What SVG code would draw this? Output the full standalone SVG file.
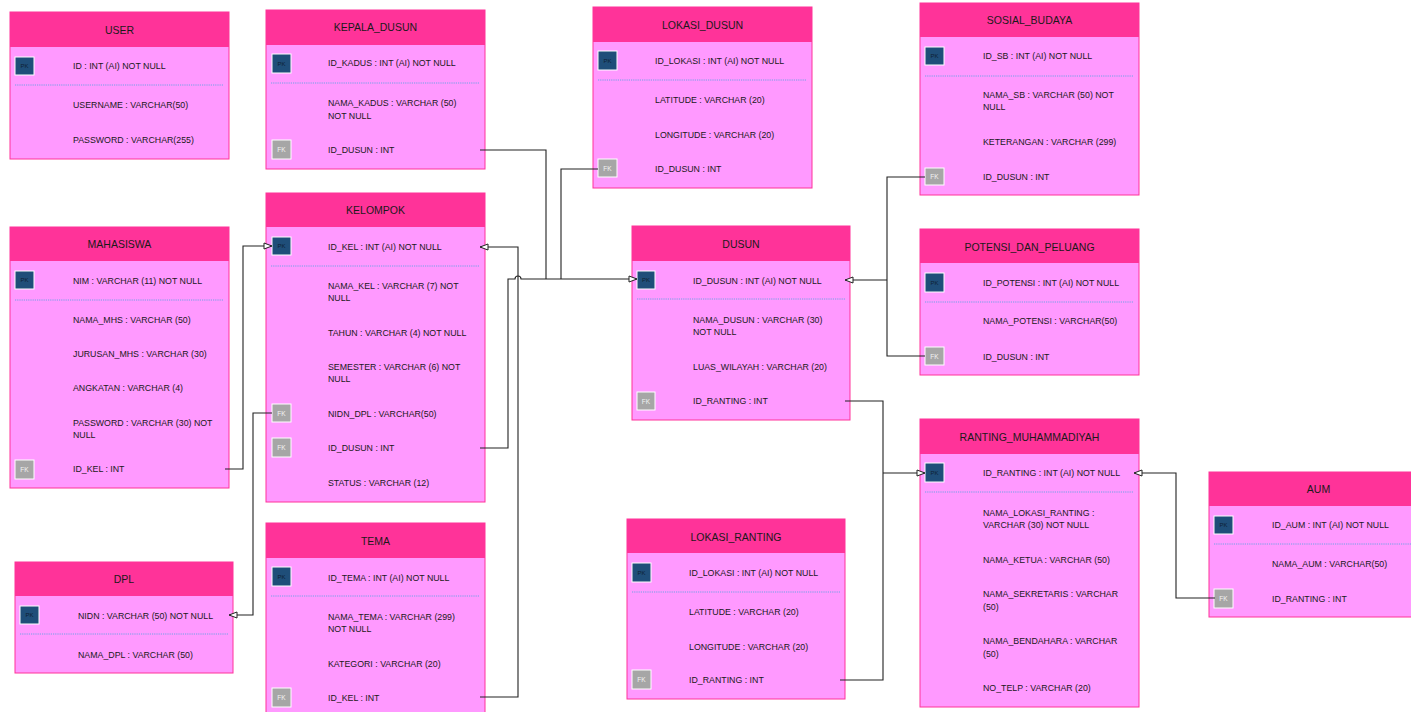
<svg xmlns="http://www.w3.org/2000/svg" width="1411" height="712" viewBox="0 0 1411 712">
<style>
.bd{fill:#FF99FF;stroke:#FF3399;stroke-width:1}
.hd{fill:#FF3399}
.t{font-family:"Liberation Sans",Arial,sans-serif;font-size:10.5px;fill:#1a1a1a;text-anchor:middle}
.r{font-family:"Liberation Sans",Arial,sans-serif;font-size:8.8px;fill:#1a1a1a}
.sep{stroke:#4FA3E0;stroke-width:0.8;stroke-dasharray:1.2 1}
.pk{fill:#1F4E79;stroke:#ffffff;stroke-width:1}
.fk{fill:#A6A6A6;stroke:#ffffff;stroke-width:1}
.pkt{font-family:"Liberation Sans",Arial,sans-serif;font-size:6px;fill:#0E1F33;text-anchor:middle}
.fkt{font-family:"Liberation Sans",Arial,sans-serif;font-size:6.5px;fill:#F2F2F2;text-anchor:middle}
.c{fill:none;stroke:#222;stroke-width:1.1}
</style>
<defs>
<marker id="arr" markerWidth="11" markerHeight="9" refX="9.5" refY="4.5" orient="auto" markerUnits="userSpaceOnUse">
<path d="M1.5,1.5 L9.5,4.5 L1.5,7.5 Z" fill="#fff" stroke="#222" stroke-width="1"/>
</marker>
</defs>
<rect width="1411" height="712" fill="#fff"/>

<g id="user">
<rect class="bd" x="10" y="12" width="219" height="147"/>
<rect class="hd" x="10" y="12" width="219" height="35"/>
<text class="t" x="119.5" y="34">USER</text>
<rect class="pk" x="15" y="57" width="19" height="18"/><text class="pkt" x="24.5" y="68">PK</text>
<text class="r" x="73" y="69">ID : INT (AI) NOT NULL</text>
<line class="sep" x1="15" y1="85" x2="224" y2="85"/>
<text class="r" x="73" y="108">USERNAME : VARCHAR(50)</text>
<text class="r" x="73" y="143">PASSWORD : VARCHAR(255)</text>
</g>

<g id="kepala_dusun">
<rect class="bd" x="266" y="10" width="219" height="159"/>
<rect class="hd" x="266" y="10" width="219" height="35"/>
<text class="t" x="375.5" y="31">KEPALA_DUSUN</text>
<rect class="pk" x="272" y="54" width="19" height="19"/><text class="pkt" x="281.5" y="65.5">PK</text>
<text class="r" x="328" y="66">ID_KADUS : INT (AI) NOT NULL</text>
<line class="sep" x1="271" y1="83" x2="480" y2="83"/>
<text class="r" x="328" y="106">NAMA_KADUS : VARCHAR (50)<tspan x="328" y="119">NOT NULL</tspan></text>
<rect class="fk" x="272" y="140" width="19" height="19"/><text class="fkt" x="281.5" y="152">FK</text>
<text class="r" x="328" y="153">ID_DUSUN : INT</text>
</g>

<g id="lokasi_dusun">
<rect class="bd" x="593" y="7" width="219" height="181"/>
<rect class="hd" x="593" y="7" width="219" height="35"/>
<text class="t" x="702.5" y="29">LOKASI_DUSUN</text>
<rect class="pk" x="598" y="51" width="19" height="19"/><text class="pkt" x="607.5" y="62.5">PK</text>
<text class="r" x="655" y="64">ID_LOKASI : INT (AI) NOT NULL</text>
<line class="sep" x1="598" y1="80" x2="807" y2="80"/>
<text class="r" x="655" y="103">LATITUDE : VARCHAR (20)</text>
<text class="r" x="655" y="138">LONGITUDE : VARCHAR (20)</text>
<rect class="fk" x="598" y="159" width="19" height="18"/><text class="fkt" x="607.5" y="170.5">FK</text>
<text class="r" x="655" y="172">ID_DUSUN : INT</text>
</g>

<g id="sosial_budaya">
<rect class="bd" x="920" y="3" width="219" height="192"/>
<rect class="hd" x="920" y="3" width="219" height="34"/>
<text class="t" x="1029.5" y="24">SOSIAL_BUDAYA</text>
<rect class="pk" x="925" y="47" width="19" height="18"/><text class="pkt" x="934.5" y="58">PK</text>
<text class="r" x="983" y="59">ID_SB : INT (AI) NOT NULL</text>
<line class="sep" x1="925" y1="76" x2="1134" y2="76"/>
<text class="r" x="983" y="98">NAMA_SB : VARCHAR (50) NOT<tspan x="983" y="110">NULL</tspan></text>
<text class="r" x="983" y="145">KETERANGAN : VARCHAR (299)</text>
<rect class="fk" x="925" y="168" width="19" height="17"/><text class="fkt" x="934.5" y="179">FK</text>
<text class="r" x="983" y="180">ID_DUSUN : INT</text>
</g>

<g id="mahasiswa">
<rect class="bd" x="10" y="227" width="219" height="261"/>
<rect class="hd" x="10" y="227" width="219" height="34"/>
<text class="t" x="119.5" y="248">MAHASISWA</text>
<rect class="pk" x="15" y="271" width="19" height="18"/><text class="pkt" x="24.5" y="282">PK</text>
<text class="r" x="73" y="284">NIM : VARCHAR (11) NOT NULL</text>
<line class="sep" x1="15" y1="300" x2="224" y2="300"/>
<text class="r" x="73" y="323">NAMA_MHS : VARCHAR (50)</text>
<text class="r" x="73" y="357">JURUSAN_MHS : VARCHAR (30)</text>
<text class="r" x="73" y="391">ANGKATAN : VARCHAR (4)</text>
<text class="r" x="73" y="426">PASSWORD : VARCHAR (30) NOT<tspan x="73" y="438">NULL</tspan></text>
<rect class="fk" x="15" y="460" width="19" height="19"/><text class="fkt" x="24.5" y="472">FK</text>
<text class="r" x="73" y="472">ID_KEL : INT</text>
</g>

<g id="kelompok">
<rect class="bd" x="266" y="193" width="219" height="309"/>
<rect class="hd" x="266" y="193" width="219" height="34"/>
<text class="t" x="375.5" y="214">KELOMPOK</text>
<rect class="pk" x="272" y="237" width="19" height="18"/><text class="pkt" x="281.5" y="248">PK</text>
<text class="r" x="328" y="250">ID_KEL : INT (AI) NOT NULL</text>
<line class="sep" x1="271" y1="266" x2="480" y2="266"/>
<text class="r" x="328" y="289">NAMA_KEL : VARCHAR (7) NOT<tspan x="328" y="301">NULL</tspan></text>
<text class="r" x="328" y="336">TAHUN : VARCHAR (4) NOT NULL</text>
<text class="r" x="328" y="370">SEMESTER : VARCHAR (6) NOT<tspan x="328" y="382">NULL</tspan></text>
<rect class="fk" x="272" y="404" width="19" height="18"/><text class="fkt" x="281.5" y="415.5">FK</text>
<text class="r" x="328" y="417">NIDN_DPL : VARCHAR(50)</text>
<rect class="fk" x="272" y="438" width="19" height="19"/><text class="fkt" x="281.5" y="450">FK</text>
<text class="r" x="328" y="451">ID_DUSUN : INT</text>
<text class="r" x="328" y="486">STATUS : VARCHAR (12)</text>
</g>

<g id="dusun">
<rect class="bd" x="632" y="226" width="218" height="194"/>
<rect class="hd" x="632" y="226" width="218" height="35"/>
<text class="t" x="741" y="248">DUSUN</text>
<rect class="pk" x="637" y="271" width="18" height="18"/><text class="pkt" x="646" y="282">PK</text>
<text class="r" x="693" y="284">ID_DUSUN : INT (AI) NOT NULL</text>
<line class="sep" x1="637" y1="299" x2="845" y2="299"/>
<text class="r" x="693" y="323">NAMA_DUSUN : VARCHAR (30)<tspan x="693" y="335">NOT NULL</tspan></text>
<text class="r" x="693" y="370">LUAS_WILAYAH : VARCHAR (20)</text>
<rect class="fk" x="637" y="392" width="18" height="18"/><text class="fkt" x="646" y="403.5">FK</text>
<text class="r" x="693" y="404">ID_RANTING : INT</text>
</g>

<g id="potensi_dan_peluang">
<rect class="bd" x="920" y="229" width="219" height="146"/>
<rect class="hd" x="920" y="229" width="219" height="34"/>
<text class="t" x="1029.5" y="251">POTENSI_DAN_PELUANG</text>
<rect class="pk" x="925" y="273" width="19" height="19"/><text class="pkt" x="934.5" y="284.5">PK</text>
<text class="r" x="983" y="286">ID_POTENSI : INT (AI) NOT NULL</text>
<line class="sep" x1="925" y1="302" x2="1134" y2="302"/>
<text class="r" x="983" y="324">NAMA_POTENSI : VARCHAR(50)</text>
<rect class="fk" x="925" y="347" width="19" height="18"/><text class="fkt" x="934.5" y="358.5">FK</text>
<text class="r" x="983" y="360">ID_DUSUN : INT</text>
</g>

<g id="dpl">
<rect class="bd" x="15" y="562" width="218" height="111"/>
<rect class="hd" x="15" y="562" width="218" height="34"/>
<text class="t" x="124" y="583">DPL</text>
<rect class="pk" x="20" y="606" width="19" height="18"/><text class="pkt" x="29.5" y="617">PK</text>
<text class="r" x="78" y="619">NIDN : VARCHAR (50) NOT NULL</text>
<line class="sep" x1="20" y1="634" x2="228" y2="634"/>
<text class="r" x="78" y="658">NAMA_DPL : VARCHAR (50)</text>
</g>

<g id="tema">
<rect class="bd" x="266" y="523" width="219" height="200"/>
<rect class="hd" x="266" y="523" width="219" height="35"/>
<text class="t" x="375.5" y="545">TEMA</text>
<rect class="pk" x="272" y="567" width="19" height="19"/><text class="pkt" x="281.5" y="578.5">PK</text>
<text class="r" x="328" y="581">ID_TEMA : INT (AI) NOT NULL</text>
<line class="sep" x1="271" y1="596" x2="480" y2="596"/>
<text class="r" x="328" y="620">NAMA_TEMA : VARCHAR (299)<tspan x="328" y="632">NOT NULL</tspan></text>
<text class="r" x="328" y="667">KATEGORI : VARCHAR (20)</text>
<rect class="fk" x="272" y="688" width="19" height="19"/><text class="fkt" x="281.5" y="700">FK</text>
<text class="r" x="328" y="701">ID_KEL : INT</text>
</g>

<g id="lokasi_ranting">
<rect class="bd" x="627" y="519" width="218" height="180"/>
<rect class="hd" x="627" y="519" width="218" height="34"/>
<text class="t" x="736" y="541">LOKASI_RANTING</text>
<rect class="pk" x="632" y="563" width="19" height="19"/><text class="pkt" x="641.5" y="574.5">PK</text>
<text class="r" x="689" y="576">ID_LOKASI : INT (AI) NOT NULL</text>
<line class="sep" x1="632" y1="592" x2="840" y2="592"/>
<text class="r" x="689" y="615">LATITUDE : VARCHAR (20)</text>
<text class="r" x="689" y="650">LONGITUDE : VARCHAR (20)</text>
<rect class="fk" x="632" y="670" width="19" height="19"/><text class="fkt" x="641.5" y="682">FK</text>
<text class="r" x="689" y="683">ID_RANTING : INT</text>
</g>

<g id="ranting_muhammadiyah">
<rect class="bd" x="920" y="419" width="219" height="288"/>
<rect class="hd" x="920" y="419" width="219" height="35"/>
<text class="t" x="1029.5" y="441">RANTING_MUHAMMADIYAH</text>
<rect class="pk" x="925" y="463" width="19" height="19"/><text class="pkt" x="934.5" y="474.5">PK</text>
<text class="r" x="983" y="476">ID_RANTING : INT (AI) NOT NULL</text>
<line class="sep" x1="925" y1="492" x2="1134" y2="492"/>
<text class="r" x="983" y="516">NAMA_LOKASI_RANTING :<tspan x="983" y="528">VARCHAR (30) NOT NULL</tspan></text>
<text class="r" x="983" y="563">NAMA_KETUA : VARCHAR (50)</text>
<text class="r" x="983" y="597">NAMA_SEKRETARIS : VARCHAR<tspan x="983" y="610">(50)</tspan></text>
<text class="r" x="983" y="644">NAMA_BENDAHARA : VARCHAR<tspan x="983" y="657">(50)</tspan></text>
<text class="r" x="983" y="691">NO_TELP : VARCHAR (20)</text>
</g>

<g id="aum">
<rect class="bd" x="1209" y="472" width="219" height="145"/>
<rect class="hd" x="1209" y="472" width="219" height="34"/>
<text class="t" x="1318.5" y="493">AUM</text>
<rect class="pk" x="1214" y="516" width="19" height="18"/><text class="pkt" x="1223.5" y="527">PK</text>
<text class="r" x="1272" y="528">ID_AUM : INT (AI) NOT NULL</text>
<line class="sep" x1="1214" y1="544" x2="1423" y2="544"/>
<text class="r" x="1272" y="567">NAMA_AUM : VARCHAR(50)</text>
<rect class="fk" x="1214" y="589" width="19" height="19"/><text class="fkt" x="1223.5" y="601">FK</text>
<text class="r" x="1272" y="602">ID_RANTING : INT</text>
</g>

<g id="connectors">
<path class="c" d="M480,150 H546 V279"/>
<path class="c" d="M598,169 H561 V279"/>
<path class="c" d="M480,448 H508 V279 H515 A3,3 0 0 1 521,279 H637" marker-end="url(#arr)"/>
<path class="c" d="M480,697 H518 V247 H480" marker-end="url(#arr)"/>
<path class="c" d="M225,469 H243 V246 H272" marker-end="url(#arr)"/>
<path class="c" d="M272,413 H253 V615 H229" marker-end="url(#arr)"/>
<path class="c" d="M925,177 H887 V356 H925"/>
<path class="c" d="M887,280 H845" marker-end="url(#arr)"/>
<path class="c" d="M845,401 H883 V680 H840"/>
<path class="c" d="M883,473 H925" marker-end="url(#arr)"/>
<path class="c" d="M1215,598 H1176 V473 H1134" marker-end="url(#arr)"/>
</g>
</svg>
